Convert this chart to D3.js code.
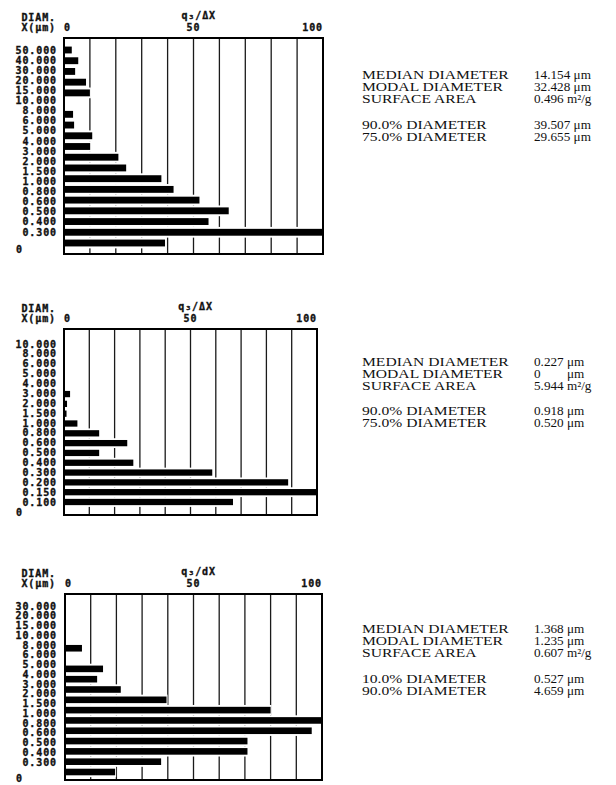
<!DOCTYPE html>
<html>
<head>
<meta charset="utf-8">
<title>Particle size distributions</title>
<script src="https://d3js.org/d3.v7.min.js"></script>
<style>
body { margin: 0; background: #fff; }
.lbl { font-family: "DejaVu Sans Mono", monospace; font-weight: bold; font-size: 10px; letter-spacing: 0.9px;
       fill: #111; stroke: #111; stroke-width: 0.35; }
.stat { font-family: "Liberation Serif", "Times New Roman", serif; font-size: 12px; fill: #111; white-space: pre; }
</style>
</head>
<body>
<div id="chart"></div>
<script>
var sizes1 = ["50.000","40.000","30.000","20.000","15.000","10.000","8.000","6.000","5.000","4.000",
              "3.000","2.000","1.500","1.000","0.800","0.600","0.500","0.400","0.300"];
var freq1 = [3, 5.5, 4.3, 8.5, 10, 0, 3.5, 3.9, 10.9, 10.1, 21, 24, 37.6, 42.3, 52.3, 63.6, 55.8, 100, 39];

var sizes2 = ["10.000","8.000","6.000","5.000","4.000","3.000","2.000","1.500","1.000","0.800",
              "0.600","0.500","0.400","0.300","0.200","0.150","0.100"];
var freq2 = [0, 0, 0, 0, 0, 2.4, 1.2, 1.0, 5.3, 13.9, 25, 13.9, 27.4, 58.6, 88.6, 100, 66.8];

var sizes3 = ["30.000","20.000","15.000","10.000","8.000","6.000","5.000","4.000","3.000","2.000",
              "1.500","1.000","0.800","0.600","0.500","0.400","0.300"];
var freq3 = [0, 0, 0, 0, 6.6, 0, 14.8, 12.5, 21.7, 39.5, 80, 100, 96, 71, 71, 37.4, 19.5];

var xTicks = [0, 50, 100];
var gridTicks = [10, 20, 30, 40, 50, 60, 70, 80, 90];

var statNames1 = ["MEDIAN DIAMETER", "MODAL DIAMETER", "SURFACE AREA", "90.0% DIAMETER", "75.0% DIAMETER"];
var statValues1 = ["14.154 μm", "32.428 μm", "0.496 m²/g", "39.507 μm", "29.655 μm"];
var statNames2 = ["MEDIAN DIAMETER", "MODAL DIAMETER", "SURFACE AREA", "90.0% DIAMETER", "75.0% DIAMETER"];
var statValues2 = ["0.227 μm", "0        μm", "5.944 m²/g", "0.918 μm", "0.520 μm"];
var statNames3 = ["MEDIAN DIAMETER", "MODAL DIAMETER", "SURFACE AREA", "10.0% DIAMETER", "90.0% DIAMETER"];
var statValues3 = ["1.368 μm", "1.235 μm", "0.607 m²/g", "0.527 μm", "4.659 μm"];

var width = 616, height = 785;

var svg = d3.select("#chart").append("svg")
  .attr("width", width)
  .attr("height", height);

// where each printout sits on the page
var panels = [
  {sizes: sizes1, freq: freq1, names: statNames1, values: statValues1, head: "q₃/ΔX",
   left: 64, right: 323, top: 38, bottom: 254, lab: [50, 232], zero: 249, bars: [50, 243],
   stats: [75, 87, 99, 125, 137]},
  {sizes: sizes2, freq: freq2, names: statNames2, values: statValues2, head: "q₃/ΔX",
   left: 64, right: 317, top: 329, bottom: 515, lab: [344, 502], zero: 512, bars: [345, 502],
   stats: [362, 374, 386, 411, 423]},
  {sizes: sizes3, freq: freq3, names: statNames3, values: statValues3, head: "q₃/dX",
   left: 65, right: 322, top: 594, bottom: 780, lab: [606, 762], zero: 778, bars: [607, 772],
   stats: [629, 641, 653, 679, 691]}
];

panels.forEach(drawPanel);

function drawPanel(p) {
  var g = svg.append("g");
  var n = p.sizes.length;

  var x = d3.scaleLinear().domain([0, 100]).range([p.left, p.right]);

  // labels and bars were printed at slightly different pitches
  var yLab = d3.scalePoint().domain(p.sizes).range(p.lab);
  var step = (p.bars[1] - p.bars[0]) / (n - 1);
  var yBar = d3.scaleBand().domain(p.sizes)
    .range([p.bars[0] - step / 2, p.bars[1] + step / 2]).padding(0);
  var bw = yBar.bandwidth();

  // vertical grid
  g.selectAll(".grid")
    .data(gridTicks)
    .enter().append("line")
    .attr("x1", function(d) { return x(d); })
    .attr("x2", function(d) { return x(d); })
    .attr("y1", p.top)
    .attr("y2", p.bottom)
    .attr("stroke", "#1a1a1a")
    .attr("stroke-width", 1.3);

  // each bar clears the grid in its own row
  g.selectAll(".halo")
    .data(p.freq)
    .enter().append("rect")
    .attr("x", x(0))
    .attr("y", function(d, i) { return yBar(p.sizes[i]); })
    .attr("width", function(d) { return d > 0 ? x(d) - x(0) + 1 : 0; })
    .attr("height", bw)
    .attr("fill", "#fff");

  // frame
  g.append("rect")
    .attr("x", p.left)
    .attr("y", p.top)
    .attr("width", p.right - p.left)
    .attr("height", p.bottom - p.top)
    .attr("fill", "none")
    .attr("stroke", "#000")
    .attr("stroke-width", 2);

  g.selectAll(".bar")
    .data(p.freq)
    .enter().append("rect")
    .attr("x", x(0))
    .attr("y", function(d, i) { return yBar(p.sizes[i]) + bw * 0.18; })
    .attr("width", function(d) { return x(d) - x(0); })
    .attr("height", bw * 0.64)
    .attr("fill", "#000");

  // size labels down the left
  g.selectAll(".size")
    .data(p.sizes)
    .enter().append("text")
    .attr("class", "lbl")
    .attr("x", 57)
    .attr("y", function(d) { return yLab(d); })
    .attr("dy", "0.36em")
    .attr("text-anchor", "end")
    .text(function(d) { return d; });

  g.append("text").attr("class", "lbl")
    .attr("x", 16).attr("y", p.zero).attr("dy", "0.36em")
    .text("0");

  // header
  g.append("text").attr("class", "lbl")
    .attr("x", 56).attr("y", p.top - 17).attr("text-anchor", "end")
    .text("DIAM.");
  g.append("text").attr("class", "lbl")
    .attr("x", 56).attr("y", p.top - 7).attr("text-anchor", "end")
    .text("X(μm)");
  g.append("text").attr("class", "lbl")
    .attr("x", x(52)).attr("y", p.top - 19).attr("text-anchor", "middle")
    .text(p.head);

  g.selectAll(".tick")
    .data(xTicks)
    .enter().append("text")
    .attr("class", "lbl")
    .attr("x", function(d) { return x(d); })
    .attr("y", p.top - 7)
    .attr("text-anchor", function(d) { return d === 0 ? "start" : d === 100 ? "end" : "middle"; })
    .text(function(d) { return d; });

  // summary figures on the right, names printed a little wide
  g.selectAll(".sname")
    .data(p.names)
    .enter().append("text")
    .attr("class", "stat")
    .attr("transform", function(d, i) { return "translate(362," + p.stats[i] + ") scale(1.3,1)"; })
    .attr("dy", "0.35em")
    .text(function(d) { return d; });

  g.selectAll(".sval")
    .data(p.values)
    .enter().append("text")
    .attr("class", "stat")
    .attr("transform", function(d, i) { return "translate(534," + p.stats[i] + ") scale(1.1,1)"; })
    .attr("dy", "0.35em")
    .text(function(d) { return d; });
}
</script>
</body>
</html>
